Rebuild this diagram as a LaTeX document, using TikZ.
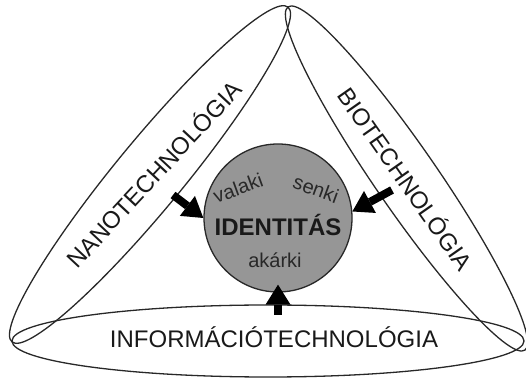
\documentclass[tikz,border=0pt]{standalone}
\usepackage{fontspec}
\setmainfont{Liberation Sans}
\usepackage{tikz}
\usetikzlibrary{shapes.geometric,arrows.meta}
\usepackage{xcolor}
\definecolor{coregray}{RGB}{150,150,150}
\definecolor{inkgray}{RGB}{40,40,40}
\tikzstyle{mybelt} = [draw=inkgray, line width=1.3pt, ellipse, inner sep=0pt]
\tikzstyle{belttitle} = [text=black!90, inner sep=1pt, font=\fontsize{24}{24}\selectfont]
\tikzstyle{mycore} = [draw=inkgray, fill=coregray, line width=1.3pt, circle, minimum size=148pt, inner sep=0pt]
\tikzstyle{fatarrow} = [line width=8pt, -{Triangle[length=20pt,width=25pt,line width=0pt]}]
\tikzstyle{smallword} = [text=inkgray, inner sep=1pt, font=\fontsize{20}{20}\selectfont]

\begin{document}
\begin{tikzpicture}[x=1pt,y=1pt]
\useasboundingbox (0,0) rectangle (526,379);
\node [mybelt, minimum width=512pt, minimum height=72pt] (info) at (268,38) {};
\node [mybelt, minimum width=434pt, minimum height=68pt, rotate=50.5] (nano) at (150,204.5) {};
\node [mybelt, minimum width=417pt, minimum height=62pt, rotate=-55.4] (bio) at (406.5,200.5) {};
\node [belttitle] (infotitle) at ([xshift=6pt,yshift=4pt]info.center) {INFORMÁCIÓTECHNOLÓGIA};
\node [belttitle, rotate=47] (nanotitle) at ([xshift=3pt,yshift=1pt]nano.center) {NANOTECHNOLÓGIA};
\node [belttitle, rotate=-55] (biotitle) at (bio.center) {BIOTECHNOLÓGIA};
\node [mycore] (id) at (278,161) {};
\node [text=black!90, inner sep=1pt, font=\bfseries\fontsize{24}{24}\selectfont] (idword) at (278,154) {IDENTITÁS};
\node [smallword, rotate=20] (valaki) at (238,191) {valaki};
\node [smallword, rotate=-20] (senki) at (316,190) {senki};
\node [smallword] (akarki) at (275,119) {akárki};
\coordinate (nanotail) at (173,184);
\coordinate (biotail) at (392,189);
\coordinate (infotail) at (278,64);
\draw [fatarrow] (nanotail) -- (id.west);
\draw [fatarrow] (biotail) -- (id.5);
\draw [fatarrow, shorten >=-8pt] (infotail) -- (id.south);
\end{tikzpicture}
\end{document}
